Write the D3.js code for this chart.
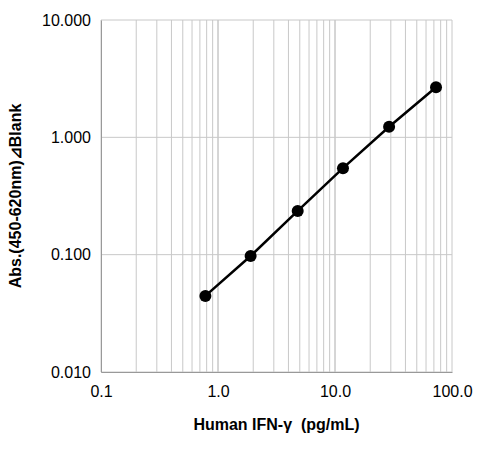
<!DOCTYPE html>
<html><head><meta charset="utf-8">
<script src="https://cdn.jsdelivr.net/npm/d3@7"></script>
<style>body{margin:0;background:#fff}</style></head>
<body><svg id="c" width="480" height="452"></svg>
<script>
const conc = [0.78, 1.9, 4.8, 11.7, 29, 73];
const absorb = [0.0445, 0.0975, 0.236, 0.546, 1.23, 2.67];
const xTicks = [0.1, 1, 10, 100];
const yTicks = [0.01, 0.1, 1, 10];

const m = {top: 20, right: 28, bottom: 80, left: 101};
const W = 480, H = 452;
const svg = d3.select("#c");
const x = d3.scaleLog().domain([0.1, 100]).range([m.left, W - m.right]);
const y = d3.scaleLog().domain([0.01, 10]).range([H - m.bottom, m.top]);
const font = "Liberation Sans, Arial, sans-serif";

// vertical grid incl. minors
const minors = [];
for (let d = 0.1; d < 100; d *= 10) for (let k = 1; k <= 10; k++) minors.push(+(d * k).toPrecision(3));
svg.append("g").selectAll("line").data(minors).join("line")
  .attr("x1", d => x(d)).attr("x2", d => x(d))
  .attr("y1", y(0.01)).attr("y2", y(10))
  .attr("stroke", "#c8c8c8").attr("stroke-width", 1);
svg.append("g").selectAll("line").data(yTicks).join("line")
  .attr("x1", x(0.1)).attr("x2", x(100))
  .attr("y1", d => y(d)).attr("y2", d => y(d))
  .attr("stroke", "#c8c8c8").attr("stroke-width", 1);

svg.append("g").attr("transform", `translate(0,${y(0.01)})`)
  .call(d3.axisBottom(x).tickValues(xTicks).tickSize(0).tickPadding(14).tickFormat(d3.format(".1f")))
  .call(g => g.select(".domain").attr("stroke", "#999"))
  .call(g => g.selectAll("text").attr("font-size", 16).attr("font-family", font).attr("fill", "#000"));
svg.append("g").attr("transform", `translate(${m.left},0)`)
  .call(d3.axisLeft(y).tickValues(yTicks).tickSize(0).tickPadding(10).tickFormat(d3.format(".3f")))
  .call(g => g.select(".domain").attr("stroke", "#999"))
  .call(g => g.selectAll("text").attr("font-size", 16).attr("font-family", font).attr("fill", "#000"));

const line = d3.line().x((d, i) => x(conc[i])).y(d => y(d));
svg.append("path").datum(absorb).attr("d", line)
  .attr("fill", "none").attr("stroke", "#000").attr("stroke-width", 2.5);
svg.append("g").selectAll("circle").data(absorb).join("circle")
  .attr("cx", (d, i) => x(conc[i])).attr("cy", d => y(d)).attr("r", 6).attr("fill", "#000");

svg.append("text").attr("x", (x(0.1) + x(100)) / 2).attr("y", 430)
  .attr("text-anchor", "middle").attr("font-size", 16).attr("font-weight", "bold")
  .attr("font-family", font).attr("xml:space", "preserve").text("Human IFN-γ  (pg/mL)");
svg.append("text").attr("transform", `translate(21,${(y(0.01) + y(10)) / 2}) rotate(-90)`)
  .attr("text-anchor", "middle").attr("font-size", 16).attr("font-weight", "bold")
  .attr("font-family", font).text("Abs.(450-620nm)⊿Blank");
</script></body></html>
